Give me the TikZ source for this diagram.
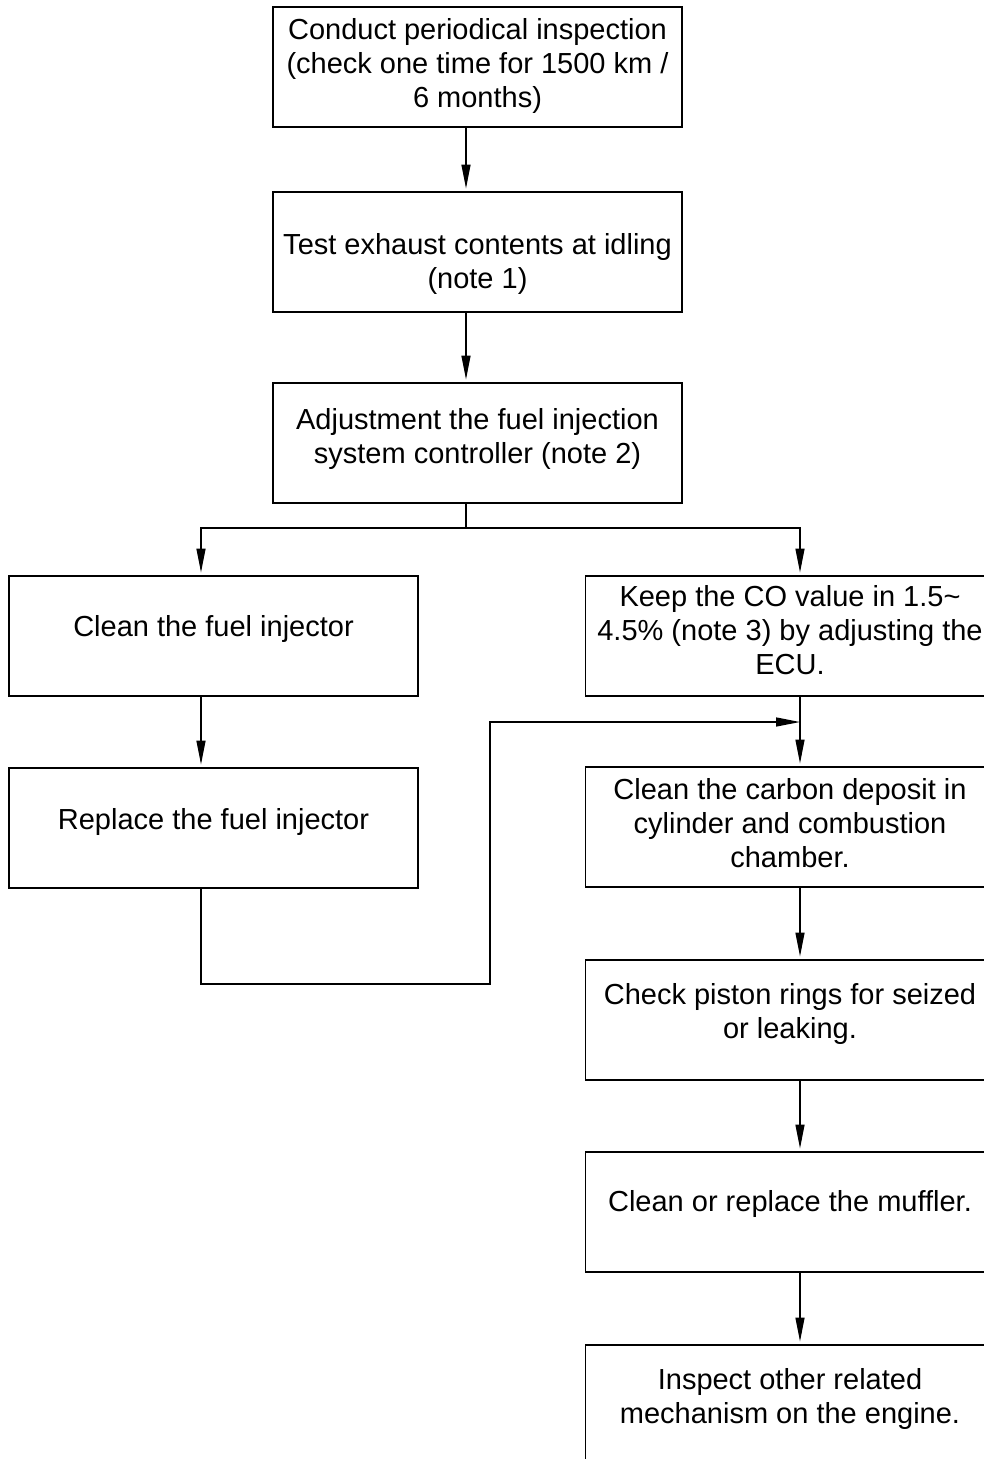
\documentclass[tikz,border=0pt]{standalone}
\usepackage{fontspec}
\setmainfont{Liberation Sans}
\usetikzlibrary{arrows.meta}
\begin{document}
\begin{tikzpicture}[x=1pt,y=-1pt,
  box/.style={draw,line width=1.8pt,minimum width=409pt,minimum height=120pt,inner sep=0pt,outer sep=0pt},
  txt/.style={anchor=north,align=center,inner sep=0pt,font=\fontsize{29}{34}\selectfont},
  conn/.style={line width=1.4pt},
  tip/.style={-{Triangle[length=24pt,width=9pt]}},
  arr/.style={conn,tip,shorten >=3.5pt}]
\useasboundingbox (0,0) rectangle (984,1459);
\clip (0,0) rectangle (984,1459);
\fill[white] (0,0) rectangle (984,1459);
% boxes
\node[box] (b1) at (477.5,67) {};
\node[box] (b2) at (477.5,252) {};
\node[box] (b3) at (477.5,443) {};
\node[box] (L1) at (213.5,636) {};
\node[box] (L2) at (213.5,828) {};
\node[box] (R1) at (790,636) {};
\node[box] (R2) at (790,827) {};
\node[box] (R3) at (790,1020) {};
\node[box] (R4) at (790,1212) {};
\node[box] (R5) at (790,1405) {};
% texts
\node[txt] (t1) at (477.5,18) {Conduct periodical inspection\\(check one time for 1500 km /\\6 months)};
\node[txt] (t2) at (477.5,233) {Test exhaust contents at idling\\(note 1)};
\node[txt] (t3) at (477.5,408) {Adjustment the fuel injection\\system controller (note 2)};
\node[txt] (tl1) at (213.5,615) {Clean the fuel injector};
\node[txt] (tl2) at (213.5,808) {Replace the fuel injector};
\node[txt] (tr1) at (790,585) {Keep the CO value in 1.5\textasciitilde\\4.5\% (note 3) by adjusting the\\ECU.};
\node[txt] (tr2) at (790,778) {Clean the carbon deposit in\\cylinder and combustion\\chamber.};
\node[txt] (tr3) at (790,983) {Check piston rings for seized\\or leaking.};
\node[txt] (tr4) at (790,1190) {Clean or replace the muffler.};
\node[txt] (tr5) at (790,1368) {Inspect other related\\mechanism on the engine.};
% connectors
\draw[arr] ([xshift=-11.5pt]b1.south) -- ([xshift=-11.5pt]b2.north);
\draw[arr] ([xshift=-11.5pt]b2.south) -- ([xshift=-11.5pt]b3.north);
\path ([xshift=-11.5pt]b3.south) ++(0,25) coordinate (sp);
\draw[conn] ([xshift=-11.5pt]b3.south) -- (sp);
\draw[arr] (sp) -| ([xshift=-12.5pt]L1.north);
\draw[arr] (sp) -| ([xshift=10pt]R1.north);
\draw[arr] ([xshift=-12.5pt]L1.south) -- ([xshift=-12.5pt]L2.north);
\draw[arr] ([xshift=10pt]R1.south) -- ([xshift=10pt]R2.north);
\draw[arr] ([xshift=10pt]R2.south) -- ([xshift=10pt]R3.north);
\draw[arr] ([xshift=10pt]R3.south) -- ([xshift=10pt]R4.north);
\draw[arr] ([xshift=10pt]R4.south) -- ([xshift=10pt]R5.north);
\path ([xshift=10pt]R1.south) ++(0,26) coordinate (j);
\coordinate (k) at (490,984);
\draw[conn,tip] ([xshift=-12.5pt]L2.south) |- (k) |- (j);
\end{tikzpicture}
\end{document}
